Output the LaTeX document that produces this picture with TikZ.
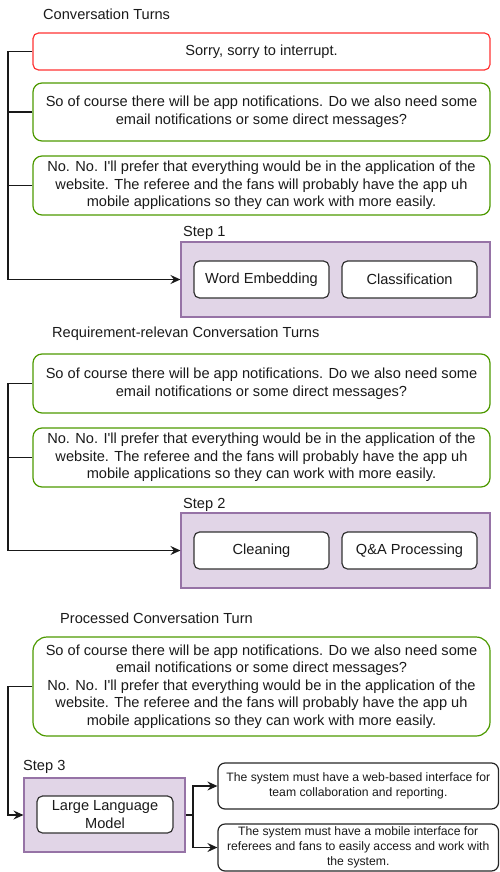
\documentclass[tikz,border=0pt]{standalone}
\usepackage{fontspec}
\setmainfont{Liberation Sans}
\usetikzlibrary{arrows.meta}
\definecolor{redline}{HTML}{FF3333}
\definecolor{greenline}{HTML}{4D9900}
\definecolor{purplefill}{HTML}{E1D5E7}
\definecolor{purpleline}{HTML}{9673A6}
\definecolor{txt}{HTML}{1A1A1A}
\newcommand{\apos}{\textquotesingle}
\tikzset{
  x=1pt, y=-1pt,
  base/.style={draw, line width=1.2pt, align=center, inner sep=0pt, text=txt,
    font=\fontsize{14.6}{17.6}\selectfont},
  redbox/.style={base, draw=redline, rounded corners=5.5pt, minimum width=457pt, minimum height=37pt},
  greenbox/.style={base, draw=greenline, rounded corners=9pt, minimum width=457pt},
  purplebox/.style={base, draw=purpleline, line width=1.1pt, fill=purplefill},
  procbox/.style={base, draw=black!80, fill=white, rounded corners=5.5pt, minimum width=135pt, minimum height=37pt},
  outbox/.style={base, draw=black!85, rounded corners=7pt, minimum width=280.5pt,
    font=\fontsize{12.2}{14.8}\selectfont},
  lbl/.style={anchor=west, inner sep=0pt, text=txt, font=\fontsize{14.6}{17.6}\selectfont},
  conn/.style={line width=1.4pt, draw=black!90},
  arr/.style={conn, -{Stealth[length=10pt,width=9pt,inset=3.5pt]}},
}
\begin{document}
\begin{tikzpicture}
\useasboundingbox (0,0) rectangle (499,872);

% section 1
\node[lbl] (t1) at (43,14) {Conversation Turns};
\node[redbox] (r1) at (261.5,51.5) {Sorry, sorry to interrupt.};
\node[greenbox, minimum height=58pt] (g1) at (261.5,112) {So of course there will be app notifications. Do we also need some\\email notifications or some direct messages?};
\node[greenbox, minimum height=59pt] (g2) at (261.5,185.5) {No. No. I\apos ll prefer that everything would be in the application of the\\website. The referee and the fans will probably have the app uh\\mobile applications so they can work with more easily.};
\node[lbl] (s1) at (183,233) {Step 1};
\node[purplebox, minimum width=309pt, minimum height=75pt] (p1) at (335.5,279.5) {};
\node[procbox] (we) at (261.5,279.5) {Word Embedding};
\node[procbox] (cl) at (409.5,279.5) {Classification};
\coordinate (k1) at (8,51.5);
\draw[arr] (r1.west) -- (k1) |- (p1.west);
\draw[conn] (g1.west) -- (g1.west -| k1);
\draw[conn] (g2.west) -- (g2.west -| k1);

% section 2
\node[lbl] (t2) at (52,334) {Requirement-relevan Conversation Turns};
\node[greenbox, minimum height=59pt] (gA) at (261.5,383.5) {So of course there will be app notifications. Do we also need some\\email notifications or some direct messages?};
\node[greenbox, minimum height=59pt] (gB) at (261.5,457.5) {No. No. I\apos ll prefer that everything would be in the application of the\\website. The referee and the fans will probably have the app uh\\mobile applications so they can work with more easily.};
\node[lbl] (s2) at (183,505) {Step 2};
\node[purplebox, minimum width=309pt, minimum height=75pt] (p2) at (335.5,550.5) {};
\node[procbox] (cn) at (261.5,550.5) {Cleaning};
\node[procbox] (qa) at (409.5,550.5) {Q\&A Processing};
\coordinate (k2) at (8,383.5);
\draw[arr] (gA.west) -- (k2) |- (p2.west);
\draw[conn] (gB.west) -- (gB.west -| k2);

% section 3
\node[lbl] (t3) at (60,618) {Processed Conversation Turn};
\node[greenbox, rounded corners=14pt, minimum height=99pt] (gC) at (261.5,686.5) {So of course there will be app notifications. Do we also need some\\email notifications or some direct messages?\\No. No. I\apos ll prefer that everything would be in the application of the\\website. The referee and the fans will probably have the app uh\\mobile applications so they can work with more easily.};
\node[lbl] (s3) at (23,767) {Step 3};
\node[purplebox, minimum width=161pt, minimum height=74pt] (p3) at (104.5,815) {};
\node[procbox, minimum width=136pt] (llm) at (105,814.5) {Large Language\\Model};
\node[outbox, minimum height=46pt] (o1) at (358.25,786) {The system must have a web-based interface for\\team collaboration and reporting.};
\node[outbox, minimum height=47pt] (o2) at (358.25,847.5) {The system must have a mobile interface for\\referees and fans to easily access and work with\\the system.};
\coordinate (k3) at (8,686.5);
\draw[arr] (gC.west) -- (k3) |- (p3.west);
\coordinate (k4) at (193,815);
\draw[arr] (p3.east) -- (k4) |- (o1.west);
\draw[arr] (k4) |- (o2.west);
\end{tikzpicture}
\end{document}
